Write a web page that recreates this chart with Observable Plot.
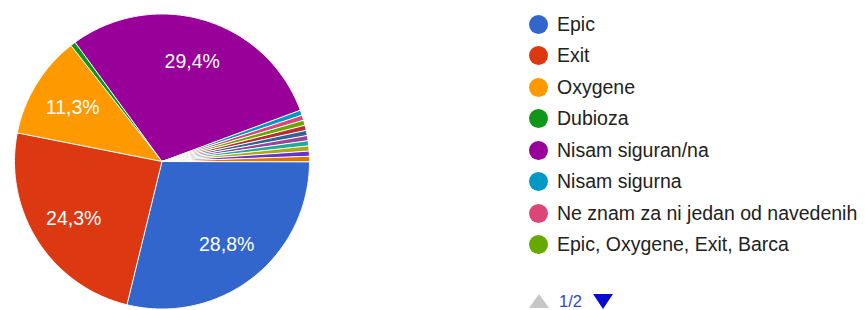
<!DOCTYPE html>
<html>
<head>
<meta charset="utf-8">
<script src="https://cdn.jsdelivr.net/npm/d3@7"></script>
<script src="https://cdn.jsdelivr.net/npm/@observablehq/plot@0.6"></script>
<style>
  html, body { margin: 0; padding: 0; background: #fff; }
  #wrap { position: relative; width: 865px; height: 310px; overflow: hidden; font-family: "Liberation Sans", Arial, sans-serif; }
  #chart { position: absolute; left: 0; top: 0; }
  .leg { position: absolute; left: 529px; height: 20px; display: flex; align-items: center; font-size: 19.5px; color: #222; white-space: nowrap; }
  .leg .dot { width: 19px; height: 19px; border-radius: 50%; margin-right: 9px; flex: none; }
  #pager { position: absolute; left: 529px; top: 293px; height: 16px; display: flex; align-items: center; font-size: 16.5px; line-height: 16px; color: #3344cc; }
  .tri-up { width: 0; height: 0; border-left: 10px solid transparent; border-right: 10px solid transparent; border-bottom: 14px solid #c6c6c6; margin-right: 10px; }
  .tri-down { width: 0; height: 0; border-left: 10px solid transparent; border-right: 10px solid transparent; border-top: 15px solid #0a0ad0; margin-left: 11px; }
</style>
</head>
<body>
<div id="wrap"><div id="chart"></div></div>
<script>
// ---- data ----
const categories = [
  "Epic", "Exit", "Oxygene", "Dubioza", "Nisam siguran/na", "Nisam sigurna",
  "Ne znam za ni jedan od navedenih", "Epic, Oxygene, Exit, Barca",
  "Odgovor 9", "Odgovor 10", "Odgovor 11", "Odgovor 12", "Odgovor 13", "Odgovor 14", "Odgovor 15"
];
const counts = [51, 43, 20, 1, 52, 1, 1, 1, 1, 1, 1, 1, 1, 1, 1];
const colors = [
  "#3366cc", "#dc3912", "#ff9900", "#109618", "#990099", "#0099c6", "#dd4477", "#66aa00",
  "#b82e2e", "#316395", "#994499", "#22aa99", "#aaaa11", "#6633cc", "#e67300"
];
const legendShown = 8;
const pageLabel = "1/2";

// ---- build slice polygons ----
const total = d3.sum(counts);
const startAngle = Math.PI / 2; // clockwise from 12 o'clock
const points = [];
const labels = [];
let acc = 0;
categories.forEach((name, i) => {
  const a0 = startAngle + (acc / total) * 2 * Math.PI;
  acc += counts[i];
  const a1 = startAngle + (acc / total) * 2 * Math.PI;
  points.push({name, x: 0, y: 0});
  const steps = Math.max(2, Math.ceil((a1 - a0) / (Math.PI / 360)));
  for (let k = 0; k <= steps; k++) {
    const a = a0 + (a1 - a0) * k / steps;
    points.push({name, x: Math.sin(a), y: Math.cos(a)});
  }
  const pct = counts[i] / total * 100;
  if (pct >= 5) {
    const am = (a0 + a1) / 2;
    labels.push({name, x: 0.71 * Math.sin(am), y: 0.71 * Math.cos(am), text: pct.toFixed(1).replace(".", ",") + "%"});
  }
});

const cx = 161.5, cy = 161, r = 147.5;
const plot = Plot.plot({
  width: 865,
  height: 310,
  margin: 0,
  x: {domain: [-1, 1], range: [cx - r, cx + r], axis: null},
  y: {domain: [-1, 1], range: [cy + r, cy - r], axis: null},
  color: {domain: categories, range: colors},
  style: {background: "transparent", fontFamily: "'Liberation Sans', Arial, sans-serif"},
  marks: [
    Plot.line(points, {x: "x", y: "y", z: "name", fill: "name", stroke: "white", strokeWidth: 1, curve: "linear-closed"}),
    Plot.text(labels, {x: "x", y: "y", text: "text", fill: "white", fontSize: 19.5, textAnchor: "middle", dy: 1})
  ]
});
document.getElementById("chart").appendChild(plot);

// ---- legend (HTML) ----
const wrap = document.getElementById("wrap");
categories.slice(0, legendShown).forEach((name, i) => {
  const row = document.createElement("div");
  row.className = "leg";
  row.style.top = (14 + i * 31.5) + "px";
  const dot = document.createElement("span");
  dot.className = "dot";
  dot.style.background = colors[i];
  const t = document.createElement("span");
  t.textContent = name;
  row.appendChild(dot);
  row.appendChild(t);
  wrap.appendChild(row);
});
const pager = document.createElement("div");
pager.id = "pager";
pager.innerHTML = '<span class="tri-up"></span><span>' + pageLabel + '</span><span class="tri-down"></span>';
wrap.appendChild(pager);
</script>
</body>
</html>
